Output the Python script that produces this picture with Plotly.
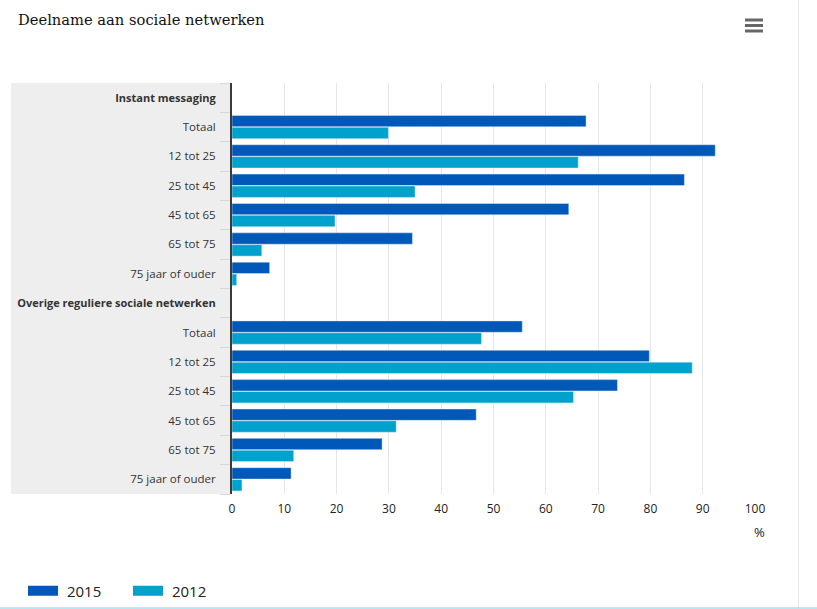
import plotly.graph_objects as go

W, H = 817, 609
LEFT, RIGHT, TOP, BOTTOM = 232, 755, 83, 494

labels = ['<span style="font-size:11px"><b>Instant messaging</b></span>', "Totaal", "12 tot 25", "25 tot 45", "45 tot 65", "65 tot 75", "75 jaar of ouder",
          '<span style="font-size:11px"><b>Overige reguliere sociale netwerken</b></span>', "Totaal", "12 tot 25", "25 tot 45", "45 tot 65", "65 tot 75", "75 jaar of ouder"]
values_2015 = [None, 67.7, 92.4, 86.5, 64.4, 34.5, 7.2, None, 55.5, 79.8, 73.7, 46.7, 28.7, 11.3]
values_2012 = [None, 29.9, 66.2, 35.0, 19.7, 5.7, 0.9, None, 47.7, 88.0, 65.3, 31.4, 11.8, 1.9]
x_ticks = [0, 10, 20, 30, 40, 50, 60, 70, 80, 90, 100]

BLUE = "#0058b8"
CYAN = "#00a1cd"
positions = list(range(len(labels)))

fig = go.Figure()
fig.add_bar(y=positions, x=values_2015, orientation="h", name="2015", marker_color=BLUE, showlegend=False)
fig.add_bar(y=positions, x=values_2012, orientation="h", name="2012", marker_color=CYAN, showlegend=False)
# thick line swatches, the bar legend symbol is only a small square
fig.add_scatter(x=[None], y=[None], mode="lines", name="\u00a02015", line=dict(color=BLUE, width=11))
fig.add_scatter(x=[None], y=[None], mode="lines", name="\u00a02012", line=dict(color=CYAN, width=11))


def px_x(p):
    return (p - LEFT) / (RIGHT - LEFT)


def px_y(p):
    return (BOTTOM - p) / (BOTTOM - TOP)


shapes = [
    # grey band behind the category labels
    dict(type="rect", xref="paper", yref="paper", x0=px_x(11), x1=0, y0=0, y1=1,
         fillcolor="#eeeeee", line_width=0, layer="below"),
    # page furniture: right border and bottom line
    dict(type="line", xref="paper", yref="paper", x0=px_x(798.5), x1=px_x(798.5), y0=px_y(0), y1=px_y(607),
         line=dict(color="#e6e6e6", width=1)),
    dict(type="line", xref="paper", yref="paper", x0=px_x(0), x1=px_x(817), y0=px_y(608), y1=px_y(608),
         line=dict(color="#6fd0ea", width=1)),
]
# menu icon
for p in [20, 25.5, 31]:
    shapes.append(dict(type="line", xref="paper", yref="paper", x0=px_x(745), x1=px_x(763), y0=px_y(p), y1=px_y(p),
                       line=dict(color="#666666", width=3)))

fig.update_layout(
    width=W, height=H,
    margin=dict(l=LEFT, r=W - RIGHT, t=TOP, b=H - BOTTOM, autoexpand=False),
    paper_bgcolor="white", plot_bgcolor="rgba(0,0,0,0)",
    barmode="group", bargap=0.19, bargroupgap=0.04,
    font=dict(family="Open Sans", size=11, color="#333333"),
    title=dict(text="Deelname aan sociale netwerken", x=18 / W, xanchor="left", y=1 - 20 / H, yanchor="middle",
               font=dict(family="DejaVu Serif", size=14.7, color="#111111")),
    xaxis=dict(range=[0, 100], tickvals=x_ticks, showgrid=True, gridcolor="#e6e6e6", gridwidth=1,
               zeroline=False, showline=False, ticks="", ticklabelstandoff=6, tickfont=dict(size=12, color="#222222")),
    yaxis=dict(range=[len(labels) - 0.5, -0.5], tickmode="array", tickvals=positions, ticktext=labels,
               showgrid=False, zeroline=False, showline=True, linecolor="#3a3a3a", linewidth=2,
               ticks="", ticklabelstandoff=12, tickfont=dict(size=11.5, color="#333333"),
               minor=dict(tickmode="array", tickvals=[p - 0.5 for p in positions] + [len(labels) - 0.5],
                          ticks="outside", ticklen=10, tickcolor="#d8d8d8", tickwidth=1, showgrid=False)),
    legend=dict(orientation="h", x=px_x(23), xanchor="left", y=px_y(591), yanchor="middle",
                font=dict(family="Open Sans", size=15, color="#222222"), itemwidth=30,
                entrywidth=60, entrywidthmode="pixels",
                bgcolor="rgba(0,0,0,0)", traceorder="normal"),
    shapes=shapes,
    annotations=[dict(text="%", xref="x", yref="paper", x=100, y=px_y(532), xanchor="center", yanchor="middle",
                      xshift=4, showarrow=False, font=dict(size=13, color="#222222"))],
)

fig.write_html("out.html", config=dict(displayModeBar=False), post_script="document.body.style.margin='0';")
